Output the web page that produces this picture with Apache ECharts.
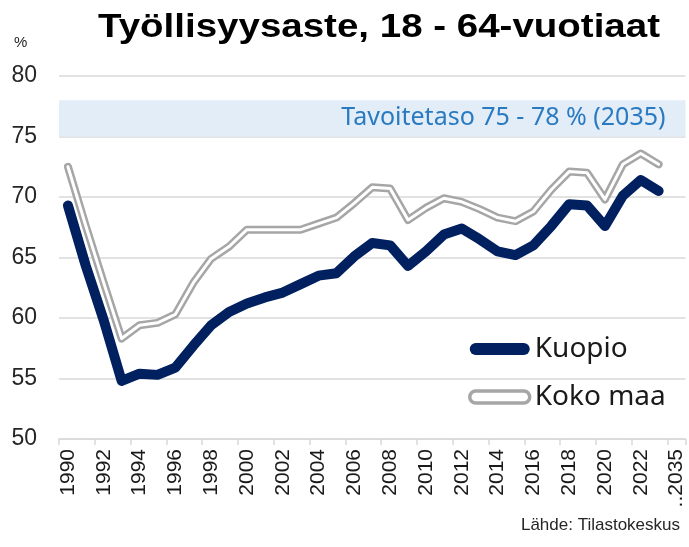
<!DOCTYPE html>
<html>
<head>
<meta charset="utf-8">
<script src="https://cdn.jsdelivr.net/npm/echarts@6/dist/echarts.min.js"></script>
<style>
html, body { margin: 0; padding: 0; background: #fff; }
#chart { width: 689px; height: 547px; }
</style>
</head>
<body>
<div id="chart"></div>
<script>
// vuodet + tavoitevuosi viimeisenä
var years = ['1990', '1991', '1992', '1993', '1994', '1995', '1996', '1997', '1998', '1999',
    '2000', '2001', '2002', '2003', '2004', '2005', '2006', '2007', '2008', '2009',
    '2010', '2011', '2012', '2013', '2014', '2015', '2016', '2017', '2018', '2019',
    '2020', '2021', '2022', '2023', '..2035']

var kuopio = [69.3, 64.3, 59.8, 54.8, 55.4, 55.3, 55.9, 57.7, 59.4, 60.5,
    61.2, 61.7, 62.1, 62.8, 63.5, 63.7, 65.1, 66.2, 66.0, 64.3,
    65.5, 66.9, 67.4, 66.5, 65.5, 65.2, 66.0, 67.6, 69.4, 69.3,
    67.6, 70.1, 71.4, 70.5]

var kokoMaa = [72.5, 67.6, 62.9, 58.3, 59.4, 59.6, 60.3, 62.9, 64.9, 65.9,
    67.3, 67.3, 67.3, 67.3, 67.8, 68.3, 69.5, 70.8, 70.7, 68.1,
    69.1, 69.9, 69.6, 69.0, 68.3, 68.0, 68.8, 70.6, 72.1, 72.0,
    69.8, 72.7, 73.6, 72.7]

var tavoite = [75, 78]

var otsikko = 'Työllisyysaste, 18 - 64-vuotiaat'
var capsule = 'path://M6,0 H54 A6,6 0 0 1 54,12 H6 A6,6 0 0 1 6,0 Z'
var textFont = 'Noto Sans'

// otsikon leveys: venytetään/kavennetaan niin että se vie saman tilan kuin kuvassa
var titleFont = 'bold 34px "Liberation Sans"'
var ctx = document.createElement('canvas').getContext('2d')
ctx.font = titleFont
var titleScale = 562 / ctx.measureText(otsikko).width

var chart = echarts.init(document.getElementById('chart'))

chart.setOption({
    animation: false,
    grid: {
        left: 59,
        right: 3.5,
        top: 76,
        bottom: 108
    },
    legend: {
        orient: 'vertical',
        left: 468,
        top: 334,
        padding: 0,
        itemWidth: 60,
        itemHeight: 12,
        itemGap: 18,
        selectedMode: false,
        textStyle: {
            fontFamily: textFont,
            fontSize: 28,
            lineHeight: 30,
            color: '#1a1a1a'
        },
        data: [
            { name: 'Kuopio', icon: capsule, itemStyle: { color: '#002060', borderWidth: 0 } },
            { name: 'Koko maa', icon: capsule, itemStyle: { color: '#fff', borderColor: '#a6a6a6', borderWidth: 3.5 } }
        ]
    },
    xAxis: {
        type: 'category',
        data: years,
        boundaryGap: true,
        axisLine: { lineStyle: { color: '#d9d9d9', width: 1.5 } },
        axisTick: { show: true, length: 6, lineStyle: { color: '#d9d9d9', width: 1.5 } },
        axisLabel: {
            interval: 1,
            rotate: 90,
            margin: 10,
            fontFamily: 'Liberation Sans',
            fontSize: 21,
            color: '#1a1a1a'
        }
    },
    yAxis: {
        type: 'value',
        min: 50,
        max: 80,
        interval: 5,
        axisLine: { show: false },
        axisTick: { show: false },
        splitLine: { lineStyle: { color: '#d9d9d9', width: 1.5 } },
        axisLabel: {
            margin: 22,
            fontFamily: 'Liberation Sans',
            fontSize: 23,
            color: '#262626'
        }
    },
    graphic: [
        {
            type: 'text',
            x: 379,
            y: 28,
            scaleX: titleScale,
            style: {
                text: otsikko,
                font: titleFont,
                fill: '#000',
                align: 'center',
                verticalAlign: 'middle'
            }
        },
        {
            type: 'text',
            left: 14,
            top: 35,
            style: { text: '%', fontFamily: 'Liberation Sans', fontSize: 15, fill: '#262626' }
        },
        {
            type: 'text',
            right: 9,
            top: 517,
            style: { text: 'Lähde: Tilastokeskus', fontFamily: 'Liberation Sans', fontSize: 17, fill: '#262626' }
        }
    ],
    series: [
        {
            name: 'Koko maa',
            type: 'line',
            data: kokoMaa,
            symbol: 'none',
            silent: true,
            z: 2,
            itemStyle: { color: '#a6a6a6' },
            lineStyle: { color: '#a6a6a6', width: 8, cap: 'round', join: 'round' },
            markArea: {
                silent: true,
                itemStyle: { color: '#e2edf8' },
                label: {
                    show: true,
                    position: 'insideRight',
                    distance: 20,
                    fontFamily: textFont,
                    fontSize: 25,
                    color: '#2a7ac2'
                },
                data: [[
                    { yAxis: tavoite[0], name: 'Tavoitetaso 75 - 78 % (2035)' },
                    { yAxis: tavoite[1] }
                ]]
            }
        },
        {
            name: 'Koko maa sisä',
            type: 'line',
            data: kokoMaa,
            symbol: 'none',
            silent: true,
            z: 3,
            lineStyle: { color: '#fff', width: 3, cap: 'round', join: 'round' }
        },
        {
            name: 'Kuopio',
            type: 'line',
            data: kuopio,
            symbol: 'none',
            silent: true,
            z: 4,
            itemStyle: { color: '#002060' },
            lineStyle: { color: '#002060', width: 10, cap: 'round', join: 'round' }
        }
    ]
})
</script>
</body>
</html>
